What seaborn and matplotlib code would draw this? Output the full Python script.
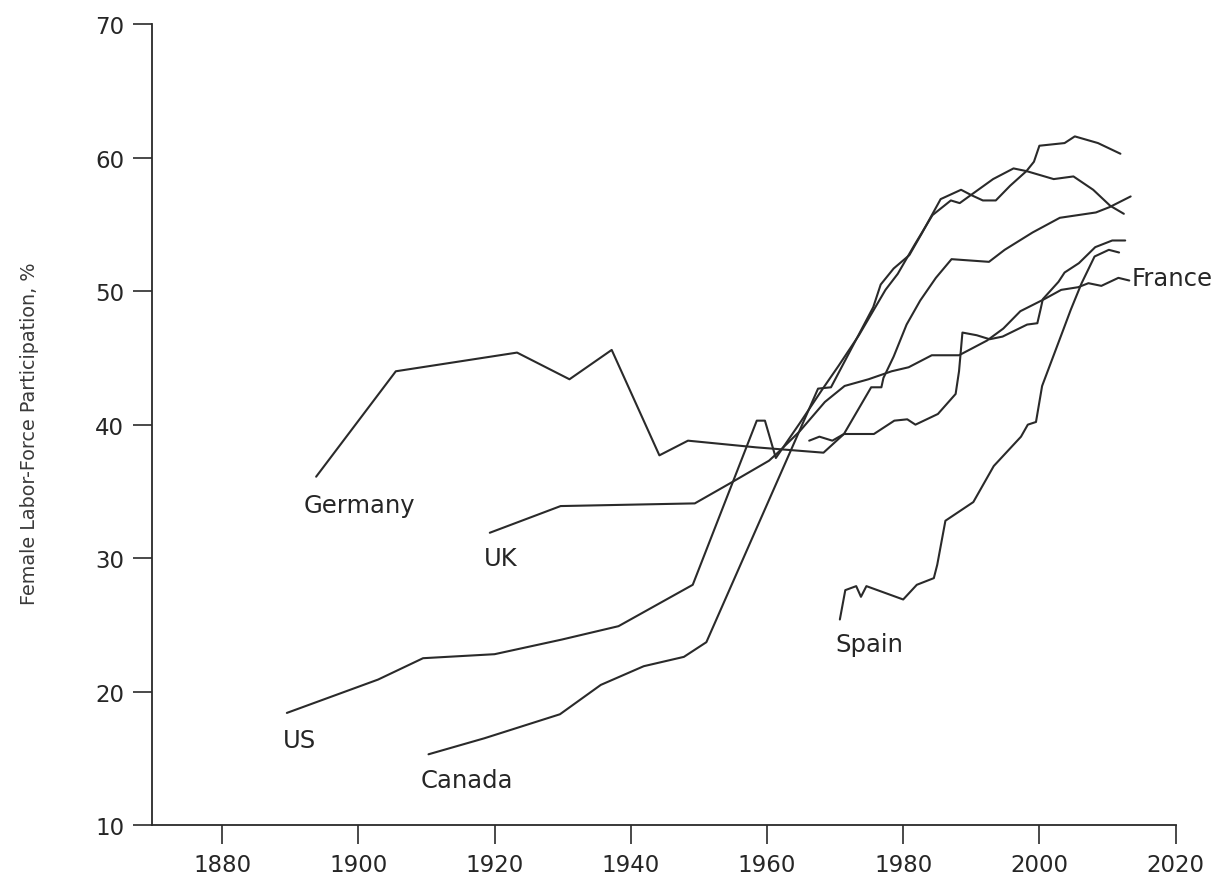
import matplotlib
matplotlib.use("Agg")
import matplotlib.pyplot as plt
import numpy as np
import pandas as pd
import seaborn as sns

# -----------------------------
# 1. DATA
# -----------------------------
us_years = [1889.5, 1902.9, 1909.5, 1920.0, 1929.9, 1938.2, 1949.1, 1958.5, 1959.7,
            1961.3, 1964.8, 1968.2, 1970.5, 1973.5, 1977.4, 1979.2, 1981.7, 1984.3,
            1987.0, 1988.3, 1990.2, 1993.2, 1996.2, 1998.1, 2002.1, 2005.0, 2007.9,
            2010.4, 2012.4]
us_values = [18.4, 20.9, 22.5, 22.8, 23.9, 24.9, 28.0, 40.3, 40.3,
             37.5, 40.1, 42.7, 44.4, 46.7, 50.1, 51.3, 53.5, 55.7,
             56.8, 56.6, 57.3, 58.4, 59.2, 59.0, 58.4, 58.6, 57.6,
             56.4, 55.8]

canada_years = [1910.3, 1918.5, 1929.6, 1935.6, 1941.9, 1947.8, 1951.1, 1967.5, 1969.4,
                1975.6, 1976.7, 1978.6, 1980.9, 1982.7, 1985.5, 1988.5, 1990.0, 1991.7,
                1993.6, 1995.7, 1998.1, 1999.2, 2000.0, 2003.7, 2005.2, 2008.6, 2011.9]
canada_values = [15.3, 16.5, 18.3, 20.5, 21.9, 22.6, 23.7, 42.7, 42.8,
                 48.8, 50.5, 51.7, 52.7, 54.3, 56.9, 57.6, 57.2, 56.8,
                 56.8, 57.9, 59.0, 59.7, 60.9, 61.1, 61.6, 61.1, 60.3]

germany_years = [1893.8, 1905.5, 1923.3, 1931.0, 1937.2, 1944.2, 1948.4, 1958.4, 1968.3,
                 1971.3, 1975.7, 1978.7, 1980.6, 1981.8, 1985.1, 1987.7, 1988.2, 1988.7,
                 1990.8, 1992.7, 1994.6, 1998.2, 1999.7, 2000.2, 2000.5, 2002.8, 2003.7,
                 2005.8, 2008.2, 2010.7, 2012.6]
germany_values = [36.1, 44.0, 45.4, 43.4, 45.6, 37.7, 38.8, 38.3, 37.9,
                  39.3, 39.3, 40.3, 40.4, 40.0, 40.8, 42.3, 44.0, 46.9,
                  46.7, 46.4, 46.6, 47.5, 47.6, 48.7, 49.4, 50.7, 51.4,
                  52.1, 53.3, 53.8, 53.8]

uk_years = [1919.3, 1929.7, 1949.4, 1954.9, 1960.3, 1961.8, 1964.8, 1968.5, 1971.4,
            1974.9, 1978.3, 1980.8, 1984.2, 1988.2, 1992.3, 1994.7, 1997.2, 2000.7,
            2003.2, 2005.7, 2007.2, 2009.1, 2011.6, 2013.2]
uk_values = [31.9, 33.9, 34.1, 35.7, 37.3, 38.0, 39.5, 41.7, 42.9,
             43.4, 44.0, 44.3, 45.2, 45.2, 46.3, 47.2, 48.5, 49.4,
             50.1, 50.3, 50.6, 50.4, 51.0, 50.8]

france_years = [1966.2, 1967.7, 1969.6, 1971.3, 1975.3, 1976.8, 1977.1, 1978.6, 1980.5,
                1982.5, 1984.8, 1987.1, 1992.6, 1994.9, 1999.0, 2003.0, 2008.3, 2010.3,
                2013.4]
france_values = [38.8, 39.1, 38.8, 39.3, 42.8, 42.8, 43.5, 45.1, 47.5,
                 49.3, 51.0, 52.4, 52.2, 53.1, 54.4, 55.5, 55.9, 56.3,
                 57.1]

spain_years = [1970.7, 1971.5, 1973.1, 1973.8, 1974.6, 1980.0, 1982.0, 1984.5, 1985.0,
               1986.2, 1990.3, 1993.3, 1997.3, 1998.3, 1999.5, 2000.4, 2003.5, 2004.6,
               2006.2, 2008.1, 2010.2, 2011.7]
spain_values = [25.4, 27.6, 27.9, 27.1, 27.9, 26.9, 28.0, 28.5, 29.5,
                32.8, 34.2, 36.9, 39.1, 40.0, 40.2, 42.9, 47.1, 48.6,
                50.6, 52.6, 53.1, 52.9]

# label text and anchor (year, value)
label_names = ["Germany", "UK", "US", "Canada", "Spain", "France"]
label_years = [1900.2, 1920.9, 1891.3, 1916.0, 1975.0, 2013.6]
label_values = [34.0, 30.0, 16.4, 13.35, 23.6, 51.0]

x_ticks = [1880, 1900, 1920, 1940, 1960, 1980, 2000, 2020]
y_ticks = [10, 20, 30, 40, 50, 60, 70]

# -----------------------------
# 2. LONG TABLE
# -----------------------------
series = {
    "US": (us_years, us_values),
    "Canada": (canada_years, canada_values),
    "Germany": (germany_years, germany_values),
    "UK": (uk_years, uk_values),
    "France": (france_years, france_values),
    "Spain": (spain_years, spain_values),
}
frames = []
for name, (yrs, vals) in series.items():
    frames.append(pd.DataFrame({"country": name, "year": yrs, "value": vals}))
df = pd.concat(frames, ignore_index=True)

# -----------------------------
# 3. STYLE
# -----------------------------
sns.set_theme(style="ticks")
plt.rcParams["font.family"] = ["DejaVu Sans"]
INK = "#2a2a2a"
TEXT = "#262626"

fig = plt.figure(figsize=(12.2, 8.78), dpi=100)
ax = fig.add_axes([0.1246, 0.0592, 0.839, 0.912])

# -----------------------------
# 4. LINES
# -----------------------------
sns.lineplot(data=df, x="year", y="value", units="country", estimator=None,
             sort=False, color=INK, linewidth=1.5, ax=ax, legend=False)

for name, yr, val in zip(label_names, label_years, label_values):
    ha = "left" if name == "France" else "center"
    ax.text(yr, val, name, ha=ha, va="center", fontsize=17.5, color=TEXT)

# -----------------------------
# 5. AXES
# -----------------------------
ax.set_xlim(1869.7, 2020)
ax.set_ylim(10, 70)
ax.set_xticks(x_ticks)
ax.set_yticks(y_ticks)
ax.tick_params(axis="both", direction="out", length=14, width=1.2,
               color=INK, labelsize=16.5, labelcolor=TEXT, pad=6)
for side in ["top", "right"]:
    ax.spines[side].set_visible(False)
for side in ["left", "bottom"]:
    ax.spines[side].set_linewidth(1.3)
    ax.spines[side].set_color(INK)

ax.set_xlabel("")
ax.set_ylabel("Female Labor-Force Participation, %", fontsize=13.8, color="#3a3a3a",
              family=["Liberation Sans Narrow", "DejaVu Sans"])
ax.yaxis.set_label_coords(-0.11, 0.49)

fig.savefig("out.png", dpi=100)
